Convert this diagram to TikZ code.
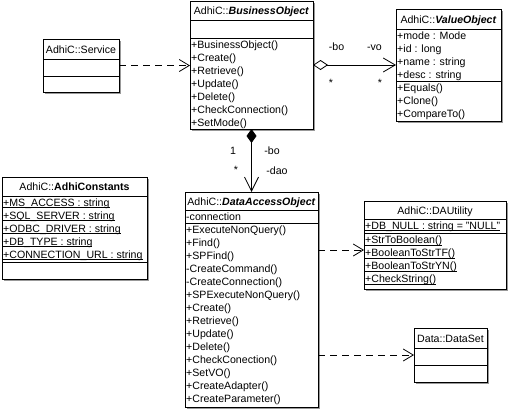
\documentclass[tikz,border=0pt]{standalone}
\usepackage{fontspec}
\setmainfont{Liberation Sans}
\usetikzlibrary{arrows.meta,shadows}
\newcommand\uln[1]{\setbox0\hbox{#1}\rlap{\rule[-1.6pt]{\wd0}{0.6pt}}\box0}
\newcommand\fst{\rule{0pt}{10.25pt}}
\tikzset{
  cls/.style={draw, line width=0.8pt, fill=white, inner sep=0pt, outer sep=0pt, anchor=north west,
    drop shadow={shadow xshift=1.6pt, shadow yshift=-1.6pt, fill=black!40, opacity=1}},
  sepl/.style={line width=0.8pt},
  txt/.style={font=\fontsize{10.6}{13}\selectfont, inner sep=0pt, anchor=north west, align=left},
  ttl/.style={font=\fontsize{10.6}{13}\selectfont, inner sep=0pt, anchor=base},
  lbl/.style={font=\fontsize{10.6}{13}\selectfont, inner sep=0pt, anchor=base},
  dep/.style={line width=0.8pt, dash pattern=on 7pt off 5pt, -{Straight Barb[length=10pt,width=12pt]}},
  agg/.style={line width=0.8pt, {Diamond[open,fill=white,length=15pt,width=10pt]}-{Straight Barb[length=12pt,width=14pt]}},
  comp/.style={line width=0.8pt, {Diamond[length=14pt,width=10pt]}-{Straight Barb[length=14pt,width=14pt]}}
}
\newcommand\sepline[2]{\draw[sepl] (#1.west |- 0,#2) -- (#1.east |- 0,#2);}
\begin{document}
\begin{tikzpicture}[x=1pt,y=-1pt]
\useasboundingbox[fill=white] (0,0) rectangle (508,410);

% Service
\node[cls, minimum width=76pt, minimum height=53pt] (svc) at (43,39) {};
\sepline{svc}{59}\sepline{svc}{76}
\node[ttl] (svct) at (81,53) {AdhiC::Service};

% BusinessObject
\node[cls, minimum width=123pt, minimum height=128pt] (bo) at (190,1) {};
\sepline{bo}{20}\sepline{bo}{38}
\node[ttl] (bot) at (251.5,14.5) {AdhiC::\textbf{\textit{BusinessObject}}};
\node[txt] (bom) at (191,38) {\fst+BusinessObject()\\+Create()\\+Retrieve()\\+Update()\\+Delete()\\+CheckConnection()\\+SetMode()};

% ValueObject
\node[cls, minimum width=105pt, minimum height=112pt] (vo) at (396,9) {};
\sepline{vo}{29}\sepline{vo}{81}
\node[ttl] (vot) at (448.5,23) {AdhiC::\textbf{\textit{ValueObject}}};
\node[txt] (voa) at (397,29) {\fst+mode : Mode\\+id : long\\+name : string\\+desc : string};
\node[txt] (vom) at (397,81) {\fst+Equals()\\+Clone()\\+CompareTo()};

% AdhiConstants
\node[cls, minimum width=145pt, minimum height=102pt] (ac) at (2,177) {};
\sepline{ac}{196}\sepline{ac}{262}
\node[ttl] (act) at (74.5,190.5) {AdhiC::\textbf{AdhiConstants}};
\node[txt] (aca) at (3,196) {\fst\uln{+MS\_ACCESS : string}\\\uln{+SQL\_SERVER : string}\\\uln{+ODBC\_DRIVER : string}\\\uln{+DB\_TYPE : string}\\\uln{+CONNECTION\_URL : string}};

% DataAccessObject
\node[cls, minimum width=133pt, minimum height=215pt] (dao) at (185,192) {};
\sepline{dao}{210}\sepline{dao}{223}
\node[ttl] (daot) at (251.5,205) {AdhiC::\textbf{\textit{DataAccessObject}}};
\node[txt] (daoa) at (186,210) {\fst-connection};
\node[txt] (daom) at (186,223) {\fst+ExecuteNonQuery()\\+Find()\\+SPFind()\\-CreateCommand()\\-CreateConnection()\\+SPExecuteNonQuery()\\+Create()\\+Retrieve()\\+Update()\\+Delete()\\+CheckConection()\\+SetVO()\\+CreateAdapter()\\+CreateParameter()};

% DAUtility
\node[cls, minimum width=142pt, minimum height=88pt] (dau) at (364,201) {};
\sepline{dau}{219}\sepline{dau}{233}
\node[ttl] (daut) at (435,214) {AdhiC::DAUtility};
\node[txt] (daua) at (365,219) {\fst\uln{+DB\_NULL : string = "NULL"}};
\node[txt] (daum) at (365,233.5) {\fst\uln{+StrToBoolean()}\\\uln{+BooleanToStrTF()}\\\uln{+BooleanToStrYN()}\\\uln{+CheckString()}};

% DataSet
\node[cls, minimum width=73pt, minimum height=54pt] (ds) at (414,328) {};
\sepline{ds}{348}\sepline{ds}{365}
\node[ttl] (dst) at (450.5,342) {Data::DataSet};

% connectors
\draw[dep] (svc.east) -- (svc.east -| bo.west);
\draw[agg] (bo.east) -- (vo.west);
\draw[comp] (bo.south) -- (dao.north);
\coordinate (dauin) at (364,250);
\draw[dep] (dao.east |- dauin) -- (dauin);
\draw[dep] (dao.east |- ds.west) -- (ds.west);

% labels
\node[lbl] (l1) at (336.5,50) {-bo};
\node[lbl] (l2) at (374.5,50) {-vo};
\node[lbl] (l3) at (331,86) {*};
\node[lbl] (l4) at (380,86) {*};
\node[lbl] (l5) at (233,154) {1};
\node[lbl] (l6) at (236,173.5) {*};
\node[lbl] (l7) at (272,154) {-bo};
\node[lbl] (l8) at (277,174.5) {-dao};
\end{tikzpicture}
\end{document}
